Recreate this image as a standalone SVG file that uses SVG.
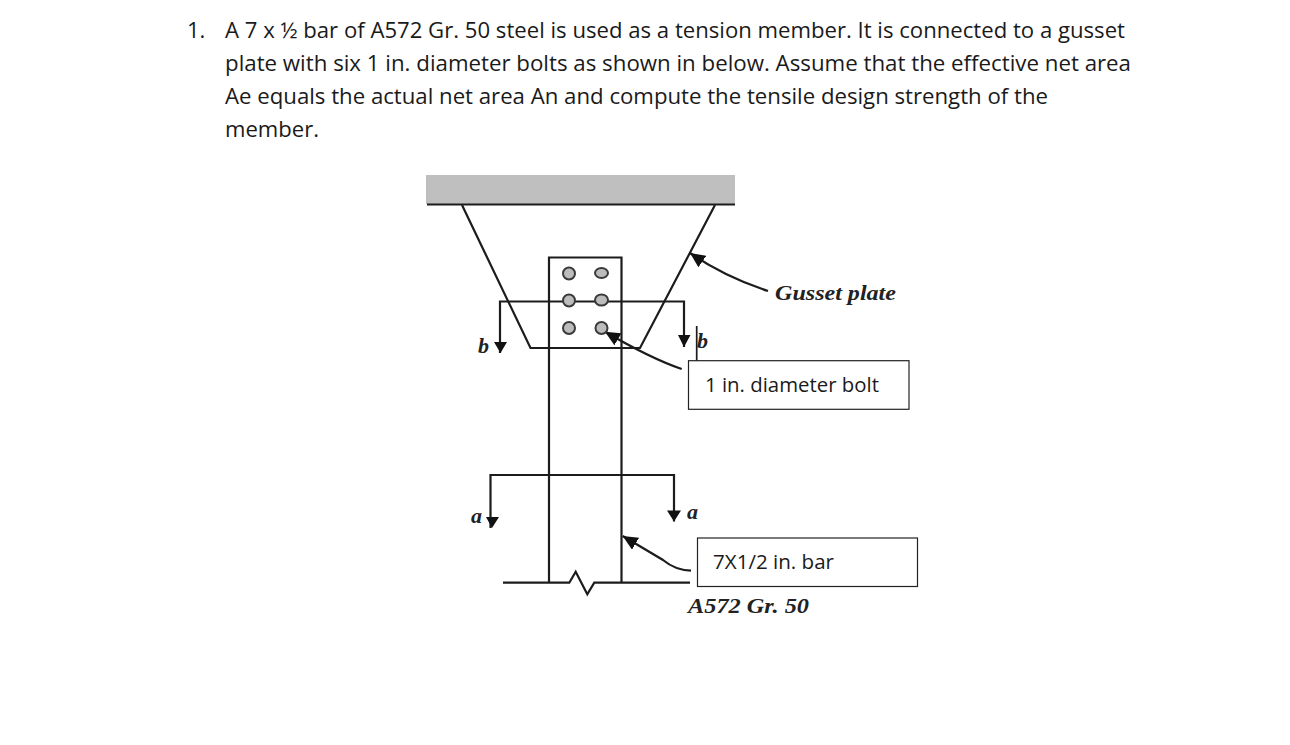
<svg xmlns="http://www.w3.org/2000/svg" width="1290" height="745" viewBox="0 0 1290 745">
<style>
.t{font-family:"Open Sans","Liberation Sans",sans-serif;font-size:22px;fill:#1a1a1a}
.s{font-family:"Open Sans","Liberation Sans",sans-serif;font-size:20.5px;fill:#1a1a1a}
.i{font-family:"Liberation Serif",serif;font-style:italic;font-weight:bold;font-size:22px;fill:#222}
.l{fill:none;stroke:#1c1c1c;stroke-width:2.2}
.n{fill:none;stroke:#1c1c1c;stroke-width:1.7}
.b{fill:#bcbcbc;stroke:#3a3a3a;stroke-width:2}
.box{fill:#fff;stroke:#222;stroke-width:1.2}
</style>
<defs>
<marker id="ah" markerUnits="userSpaceOnUse" markerWidth="16" markerHeight="14" refX="15" refY="7" orient="auto"><path d="M0,0L15,7L0,14z" fill="#111"/></marker>
<marker id="dn" markerUnits="userSpaceOnUse" markerWidth="14" markerHeight="13" refX="13" refY="6.5" orient="auto"><path d="M0,0L13,6.5L0,13z" fill="#111"/></marker>
</defs>
<rect width="1290" height="745" fill="#fff"/>
<g id="problem-text">
<text class="t" x="187" y="38">1.</text>
<text class="t" x="225" y="38" textLength="900" lengthAdjust="spacingAndGlyphs">A 7 x ½ bar of A572 Gr. 50 steel is used as a tension member. It is connected to a gusset</text>
<text class="t" x="225" y="71" textLength="906" lengthAdjust="spacingAndGlyphs">plate with six 1 in. diameter bolts as shown in below. Assume that the effective net area</text>
<text class="t" x="225" y="104" textLength="823" lengthAdjust="spacingAndGlyphs">Ae equals the actual net area An and compute the tensile design strength of the</text>
<text class="t" x="225" y="137" textLength="94" lengthAdjust="spacingAndGlyphs">member.</text>
</g>
<g id="support"><rect x="426" y="175" width="309" height="29" fill="#bfbfbf"/><path class="l" d="M427 204.5H735"/></g>
<g id="gusset-plate"><path class="l" d="M462 205L530.500 348H640L715 205"/></g>
<g id="bar"><path class="l" d="M549 582.500V257.500H621.500V582.500"/><path class="l" d="M503 582.700H569.300L575.700 571.700L587.300 594.300L594.300 582.700H690"/></g>
<g id="connectors">
<path class="l" d="M500 353V301.500H684V347" marker-start="none"/>
<path class="l" d="M490.500 528V475H674V521.500"/>
<path class="l" d="M681.700 369Q650 358 605 331.700" marker-end="url(#ah)"/>
<path class="l" d="M768 291Q725 277 690 253" marker-end="url(#ah)"/>
<path class="l" d="M691 570.700Q675 570 663 560L622.700 536" marker-end="url(#ah)"/>
<path d="M494 342H507L500.500 353zM678 335H690.500L684 347zM486 517H499L492 528zM667 510.500H681L674 521.500z" fill="#111"/>
<path class="n" d="M696.700 326V361"/>
</g>
<g id="bolts">
<circle class="b" cx="569" cy="273.500" r="6"/><ellipse class="b" cx="601.500" cy="273" rx="6.500" ry="5"/>
<circle class="b" cx="569" cy="300.500" r="6"/><ellipse class="b" cx="601.500" cy="300" rx="6.500" ry="5.500"/>
<circle class="b" cx="569" cy="328" r="6"/><circle class="b" cx="601.500" cy="328" r="6"/>
</g>
<g id="label-gusset"><text class="i" x="775" y="300" textLength="121" lengthAdjust="spacingAndGlyphs">Gusset plate</text></g>
<g id="label-bolt"><rect class="box" x="688.500" y="360.700" width="220.500" height="48.600"/><text class="s" x="705" y="392" textLength="174" lengthAdjust="spacingAndGlyphs">1 in. diameter bolt</text></g>
<g id="label-barsize"><rect class="box" x="697.500" y="538" width="220" height="48.500"/><text class="s" x="713" y="569" textLength="121" lengthAdjust="spacingAndGlyphs">7X1/2 in. bar</text></g>
<g id="label-steel"><text class="i" x="688" y="613" textLength="121" lengthAdjust="spacingAndGlyphs">A572 Gr. 50</text></g>
<g id="section-labels">
<text class="i" x="478" y="353">b</text><text class="i" x="697" y="348">b</text>
<text class="i" x="471" y="523">a</text><text class="i" x="687" y="519">a</text>
</g>
</svg>
